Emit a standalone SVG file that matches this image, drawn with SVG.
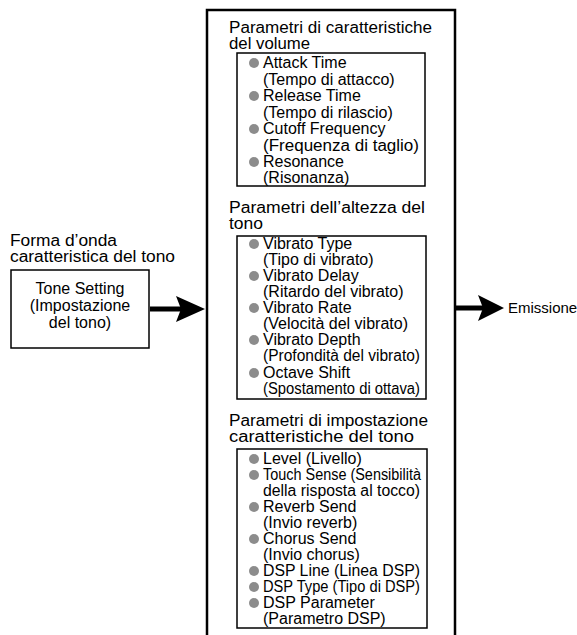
<svg xmlns="http://www.w3.org/2000/svg" width="577" height="635" viewBox="0 0 577 635">
<style>
text{font-family:"Liberation Sans",Arial,sans-serif;fill:#000}
.h{font-size:16px}
.t{font-size:16px}
.e{font-size:15px}
.box{fill:none;stroke:#000;stroke-width:1.5}
.big{fill:none;stroke:#000;stroke-width:2.5}
.b{fill:#8c8c8c}
.arr{fill:#000}
</style>
<rect width="577" height="635" fill="#fff"/>
<g id="source">
<text class="h" x="10" y="246" textLength="107" lengthAdjust="spacingAndGlyphs">Forma d’onda</text>
<text class="h" x="10" y="262" textLength="165" lengthAdjust="spacingAndGlyphs">caratteristica del tono</text>
</g>
<g id="tone-setting">
<rect class="box" x="11" y="270" width="138" height="78"/>
<text class="t" x="80" y="294" text-anchor="middle">Tone Setting</text>
<text class="t" x="80" y="311" text-anchor="middle">(Impostazione</text>
<text class="t" x="80" y="328" text-anchor="middle">del tono)</text>
</g>
<g id="parameters">
<path class="big" d="M207,635 V10 H455 V635"/>
</g>
<g id="volume">
<text class="h" x="229" y="33" textLength="203" lengthAdjust="spacingAndGlyphs">Parametri di caratteristiche</text>
<text class="h" x="229" y="49" textLength="81" lengthAdjust="spacingAndGlyphs">del volume</text>
<rect class="box" x="237" y="53" width="188" height="133"/>
<circle class="b" cx="254" cy="63" r="5"/>
<text class="t" x="263" y="68">Attack Time</text>
<text class="t" x="263" y="84.5">(Tempo di attacco)</text>
<circle class="b" cx="254" cy="96" r="5"/>
<text class="t" x="263" y="101">Release Time</text>
<text class="t" x="263" y="117.5">(Tempo di rilascio)</text>
<circle class="b" cx="254" cy="129" r="5"/>
<text class="t" x="263" y="134">Cutoff Frequency</text>
<text class="t" x="263" y="150.5" textLength="156" lengthAdjust="spacingAndGlyphs">(Frequenza di taglio)</text>
<circle class="b" cx="254" cy="162" r="5"/>
<text class="t" x="263" y="167">Resonance</text>
<text class="t" x="263" y="183">(Risonanza)</text>
</g>
<g id="pitch">
<text class="h" x="229" y="213" textLength="196" lengthAdjust="spacingAndGlyphs">Parametri dell’altezza del</text>
<text class="h" x="229" y="229" textLength="34" lengthAdjust="spacingAndGlyphs">tono</text>
<rect class="box" x="237" y="236" width="189" height="163"/>
<circle class="b" cx="254" cy="244" r="5"/>
<text class="t" x="263" y="249">Vibrato Type</text>
<text class="t" x="263" y="265">(Tipo di vibrato)</text>
<circle class="b" cx="254" cy="276" r="5"/>
<text class="t" x="263" y="281">Vibrato Delay</text>
<text class="t" x="263" y="297">(Ritardo del vibrato)</text>
<circle class="b" cx="254" cy="308" r="5"/>
<text class="t" x="263" y="313">Vibrato Rate</text>
<text class="t" x="263" y="329">(Velocità del vibrato)</text>
<circle class="b" cx="254" cy="340" r="5"/>
<text class="t" x="263" y="345">Vibrato Depth</text>
<text class="t" x="263" y="361" textLength="157" lengthAdjust="spacingAndGlyphs">(Profondità del vibrato)</text>
<circle class="b" cx="254" cy="373" r="5"/>
<text class="t" x="263" y="378">Octave Shift</text>
<text class="t" x="263" y="394" textLength="157" lengthAdjust="spacingAndGlyphs">(Spostamento di ottava)</text>
</g>
<g id="tone-char">
<text class="h" x="229" y="426" textLength="199" lengthAdjust="spacingAndGlyphs">Parametri di impostazione</text>
<text class="h" x="229" y="442" textLength="185" lengthAdjust="spacingAndGlyphs">caratteristiche del tono</text>
<rect class="box" x="237" y="449" width="190" height="179"/>
<circle class="b" cx="254" cy="459" r="5"/>
<text class="t" x="263" y="464">Level (Livello)</text>
<circle class="b" cx="254" cy="475" r="5"/>
<text class="t" x="263" y="480" textLength="158" lengthAdjust="spacingAndGlyphs">Touch Sense (Sensibilità</text>
<text class="t" x="263" y="496" textLength="157" lengthAdjust="spacingAndGlyphs">della risposta al tocco)</text>
<circle class="b" cx="254" cy="507" r="5"/>
<text class="t" x="263" y="512">Reverb Send</text>
<text class="t" x="263" y="528">(Invio reverb)</text>
<circle class="b" cx="254" cy="539" r="5"/>
<text class="t" x="263" y="544">Chorus Send</text>
<text class="t" x="263" y="560">(Invio chorus)</text>
<circle class="b" cx="254" cy="571" r="5"/>
<text class="t" x="263" y="576" textLength="157" lengthAdjust="spacingAndGlyphs">DSP Line (Linea DSP)</text>
<circle class="b" cx="254" cy="587" r="5"/>
<text class="t" x="263" y="592" textLength="157" lengthAdjust="spacingAndGlyphs">DSP Type (Tipo di DSP)</text>
<circle class="b" cx="254" cy="603" r="5"/>
<text class="t" x="263" y="608">DSP Parameter</text>
<text class="t" x="263" y="624">(Parametro DSP)</text>
</g>
<g id="output">
<text class="e" x="508" y="313">Emissione</text>
</g>
<g id="connectors">
<path class="arr" d="M150,306.5 H183 V311.5 H150 Z"/>
<path class="arr" d="M176,296 L205,309 L176,322 L181,309 Z"/>
<path class="arr" d="M456,305.5 H485 V310.5 H456 Z"/>
<path class="arr" d="M478,295 L504,308 L478,321 L483,308 Z"/>
</g>
</svg>
